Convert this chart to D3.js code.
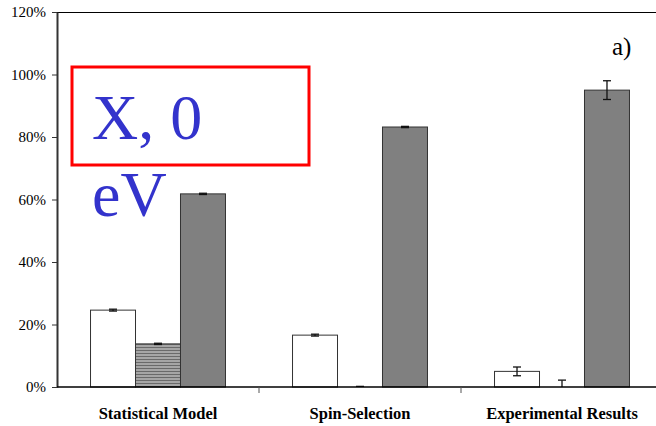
<!DOCTYPE html>
<html>
<head>
<meta charset="utf-8">
<script src="https://cdn.jsdelivr.net/npm/d3@7"></script>
<style>
  html, body { margin: 0; padding: 0; background: #fff; }
  svg { display: block; }
  svg text { font-family: 'Liberation Serif', 'Times New Roman', serif; }
</style>
</head>
<body>
<svg id="chart" width="656" height="426"></svg>
<script>
// Fraction of each outcome per model, with error half-widths (in %)
const categories = ["Statistical Model", "Spin-Selection", "Experimental Results"];
const seriesKeys = ["white", "hatched", "gray"];
const whiteValues   = [24.6, 16.6, 5.0];
const hatchedValues = [13.8, 0.0, 0.0];
const grayValues    = [61.8, 83.2, 95.0];
const whiteErrors   = [0.3, 0.3, 1.4];
const hatchedErrors = [0.2, 0.2, 2.2];
const grayErrors    = [0.2, 0.2, 3.0];
const yTicks = [0, 20, 40, 60, 80, 100, 120];

const seriesValues = [whiteValues, hatchedValues, grayValues];
const seriesErrors = [whiteErrors, hatchedErrors, grayErrors];

const svg = d3.select("#chart");
const plotLeft = 57, plotTop = 12, plotBottom = 387, plotRight = 663;
const serif = "'Liberation Serif', 'Times New Roman', serif";

const x = d3.scaleBand().domain(categories).range([plotLeft, plotRight]).paddingInner(0).paddingOuter(0);
const inner = d3.scaleBand().domain(seriesKeys).range([0, x.bandwidth()]).paddingInner(0).paddingOuter(0.745);
const y = d3.scaleLinear().domain([0, 120]).range([plotBottom, plotTop]);

// Hatch pattern for the middle series
const defs = svg.append("defs");
const pat = defs.append("pattern").attr("id", "hatch").attr("patternUnits", "userSpaceOnUse")
  .attr("width", 6).attr("height", 3);
pat.append("rect").attr("width", 6).attr("height", 3).attr("fill", "#a6a6a6");
pat.append("rect").attr("y", 2).attr("width", 6).attr("height", 1).attr("fill", "#6a6a6a");

const fills = { white: "#ffffff", hatched: "url(#hatch)", gray: "#808080" };

// Top frame line
svg.append("line").attr("x1", plotLeft).attr("x2", 656).attr("y1", plotTop + 0.5).attr("y2", plotTop + 0.5)
  .attr("stroke", "#000").attr("stroke-width", 1);

// Bars
const rows = [];
categories.forEach((c, i) => seriesKeys.forEach((k, j) => {
  rows.push({ cat: c, key: k, value: seriesValues[j][i], err: seriesErrors[j][i] });
}));

const g = svg.append("g");
g.selectAll("rect.bar").data(rows.filter(d => d.value > 0)).join("rect")
  .attr("class", "bar")
  .attr("x", d => x(d.cat) + inner(d.key))
  .attr("width", inner.bandwidth())
  .attr("y", d => y(d.value))
  .attr("height", d => y(0) - y(d.value))
  .attr("fill", d => fills[d.key])
  .attr("stroke", "#333")
  .attr("stroke-width", 1);

// Error bars
const eb = g.selectAll("g.err").data(rows).join("g").attr("class", "err")
  .attr("transform", d => `translate(${x(d.cat) + inner(d.key) + inner.bandwidth() / 2},0)`);
eb.append("line")
  .attr("y1", d => y(d.value + d.err)).attr("y2", d => y(Math.max(0, d.value - d.err)))
  .attr("stroke", "#111").attr("stroke-width", 1.3);
eb.append("line").attr("x1", -4).attr("x2", 4)
  .attr("y1", d => y(d.value + d.err)).attr("y2", d => y(d.value + d.err))
  .attr("stroke", "#111").attr("stroke-width", 1.3);
eb.filter(d => d.value - d.err > 0).append("line").attr("x1", -4).attr("x2", 4)
  .attr("y1", d => y(d.value - d.err)).attr("y2", d => y(d.value - d.err))
  .attr("stroke", "#111").attr("stroke-width", 1.3);

// Y axis
const yAxis = d3.axisLeft(y).tickValues(yTicks).tickFormat(d => d + "%").tickSize(5).tickSizeOuter(0);
const ya = svg.append("g").attr("transform", `translate(${plotLeft},0)`).call(yAxis);
ya.attr("font-family", serif);
ya.select(".domain").attr("stroke", "#333").attr("stroke-width", 2);
ya.selectAll(".tick line").attr("stroke", "#333");
ya.selectAll(".tick text").attr("x", -11).attr("font-size", 15).attr("fill", "#000");

// X axis with ticks between categories
const xa = svg.append("g").attr("transform", `translate(0,${plotBottom})`);
xa.append("line").attr("x1", plotLeft).attr("x2", 656).attr("y1", 0).attr("y2", 0)
  .attr("stroke", "#000").attr("stroke-width", 1.5);
xa.selectAll("line.sep").data(categories.slice(1)).join("line").attr("class", "sep")
  .attr("x1", d => x(d)).attr("x2", d => x(d)).attr("y1", 0).attr("y2", 6)
  .attr("stroke", "#555");
xa.selectAll("text").data(categories).join("text")
  .attr("x", d => x(d) + x.bandwidth() / 2).attr("y", 32)
  .attr("text-anchor", "middle")
  .attr("font-weight", "bold").attr("font-size", 16.5)
  .text(d => d);

// Panel label
svg.append("text").attr("x", 612).attr("y", 55).attr("font-size", 25).text("a)");

// Annotation box
svg.append("rect").attr("x", 72).attr("y", 67).attr("width", 237).attr("height", 98)
  .attr("fill", "none").attr("stroke", "#ff0000").attr("stroke-width", 3);
svg.append("text").attr("x", 92).attr("y", 139).attr("font-size", 64)
  .attr("fill", "#3333cc").text("X, 0");
svg.append("text").attr("x", 92).attr("y", 216).attr("font-size", 64)
  .attr("fill", "#3333cc").text("eV");
</script>
</body>
</html>
